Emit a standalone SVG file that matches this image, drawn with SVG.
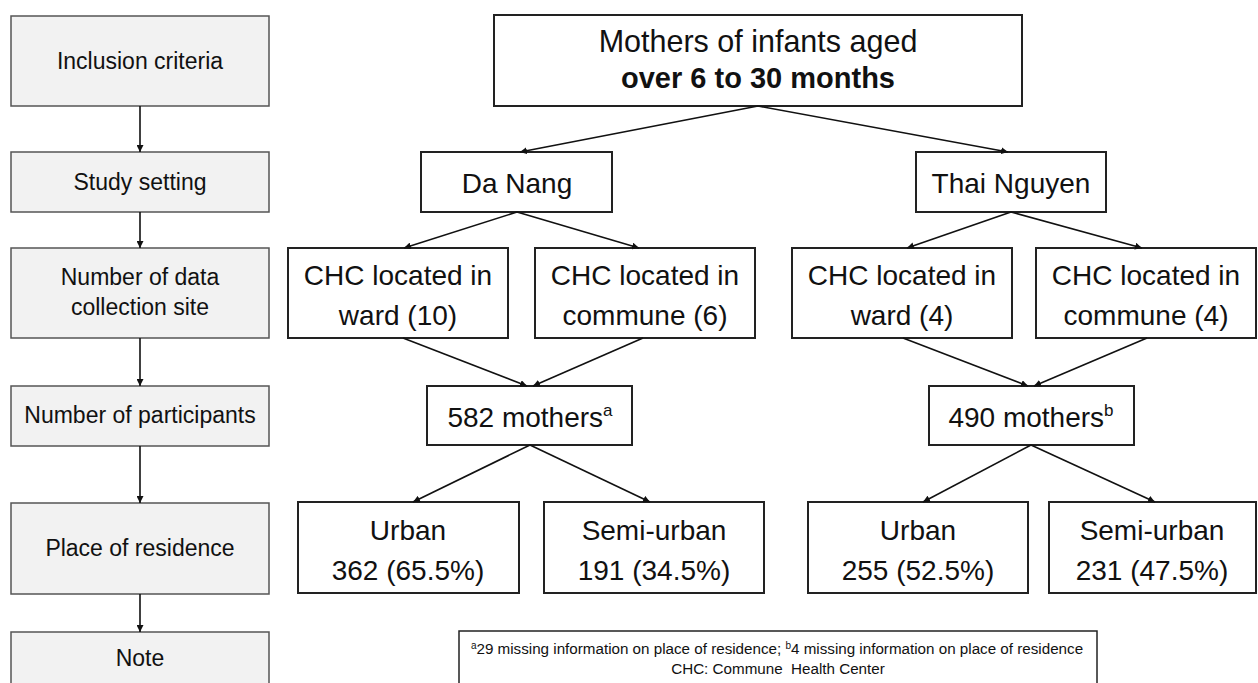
<svg xmlns="http://www.w3.org/2000/svg" width="1258" height="683" viewBox="0 0 1258 683">
<style>
.side rect{fill:#f2f2f2;stroke:#555;stroke-width:1.5}
.node rect{fill:#fff;stroke:#222;stroke-width:2}
text{font-family:"Liberation Sans",Arial,sans-serif;fill:#111;text-anchor:middle}
.s{font-size:23px}
.m{font-size:28px}
.n{font-size:15.2px}
#connectors line{stroke:#111;stroke-width:1.6;marker-end:url(#ah)}
</style>
<defs>
<marker id="ah" viewBox="0 0 10 10" refX="10" refY="5" markerWidth="7" markerHeight="7" markerUnits="userSpaceOnUse" orient="auto">
<path d="M0,0 L10,5 L0,10 z" fill="#111"/>
</marker>
</defs>
<rect width="1258" height="683" fill="#fff"/>
<g id="s1" class="side"><rect x="11" y="16" width="258" height="90"/><text class="s" x="140" y="69">Inclusion criteria</text></g>
<g id="s2" class="side"><rect x="11" y="152" width="258" height="60"/><text class="s" x="140" y="190">Study setting</text></g>
<g id="s3" class="side"><rect x="11" y="248" width="258" height="90"/><text class="s" x="140" y="285">Number of data</text><text class="s" x="140" y="315">collection site</text></g>
<g id="s4" class="side"><rect x="11" y="386" width="258" height="60"/><text class="s" x="140" y="423">Number of participants</text></g>
<g id="s5" class="side"><rect x="11" y="503" width="258" height="91"/><text class="s" x="140" y="556">Place of residence</text></g>
<g id="s6" class="side"><rect x="11" y="632" width="258" height="60"/><text class="s" x="140" y="666">Note</text></g>

<g id="top" class="node"><rect x="494" y="15" width="528" height="91"/><text class="m" x="758" y="52" style="font-size:30.5px">Mothers of infants aged</text><text class="m" x="758" y="88" style="font-size:29px;font-weight:bold">over 6 to 30 months</text></g>
<g id="danang" class="node"><rect x="421" y="152" width="191" height="60"/><text class="m" x="517" y="193">Da Nang</text></g>
<g id="thainguyen" class="node"><rect x="916" y="152" width="190" height="60"/><text class="m" x="1011" y="193">Thai Nguyen</text></g>
<g id="dn-ward" class="node"><rect x="288" y="248" width="220" height="90"/><text class="m" x="398" y="285">CHC located in</text><text class="m" x="398" y="325">ward (10)</text></g>
<g id="dn-commune" class="node"><rect x="535" y="248" width="220" height="90"/><text class="m" x="645" y="285">CHC located in</text><text class="m" x="645" y="325">commune (6)</text></g>
<g id="tn-ward" class="node"><rect x="792" y="248" width="220" height="90"/><text class="m" x="902" y="285">CHC located in</text><text class="m" x="902" y="325">ward (4)</text></g>
<g id="tn-commune" class="node"><rect x="1036" y="248" width="220" height="90"/><text class="m" x="1146" y="285">CHC located in</text><text class="m" x="1146" y="325">commune (4)</text></g>
<g id="dn-mothers" class="node"><rect x="427" y="386" width="205" height="59"/><text class="m" x="530" y="427">582 mothers<tspan font-size="17" dy="-11">a</tspan></text></g>
<g id="tn-mothers" class="node"><rect x="929" y="386" width="205" height="59"/><text class="m" x="1031" y="427">490 mothers<tspan font-size="17" dy="-11">b</tspan></text></g>
<g id="dn-urban" class="node"><rect x="298" y="502" width="221" height="91"/><text class="m" x="408" y="540">Urban</text><text class="m" x="408" y="580">362 (65.5%)</text></g>
<g id="dn-semi" class="node"><rect x="544" y="502" width="220" height="91"/><text class="m" x="654" y="540">Semi-urban</text><text class="m" x="654" y="580">191 (34.5%)</text></g>
<g id="tn-urban" class="node"><rect x="808" y="502" width="220" height="91"/><text class="m" x="918" y="540">Urban</text><text class="m" x="918" y="580">255 (52.5%)</text></g>
<g id="tn-semi" class="node"><rect x="1049" y="502" width="207" height="91"/><text class="m" x="1152" y="540">Semi-urban</text><text class="m" x="1152" y="580">231 (47.5%)</text></g>
<g id="note" class="node"><rect x="459" y="631" width="638" height="60" style="stroke-width:1.5"/><text class="n" x="777" y="654"><tspan font-size="10" dy="-5">a</tspan><tspan dy="5">29 missing information on place of residence; </tspan><tspan font-size="10" dy="-5">b</tspan><tspan dy="5">4 missing information on place of residence</tspan></text><text class="n" x="778" y="674" xml:space="preserve">CHC: Commune  Health Center</text></g>

<g id="connectors">
<line x1="140" y1="106" x2="140" y2="152"/>
<line x1="140" y1="212" x2="140" y2="248"/>
<line x1="140" y1="338" x2="140" y2="386"/>
<line x1="140" y1="446" x2="140" y2="503"/>
<line x1="140" y1="594" x2="140" y2="632"/>
<line x1="758" y1="106" x2="520" y2="152"/>
<line x1="758" y1="106" x2="1008" y2="152"/>
<line x1="517" y1="212" x2="404" y2="248"/>
<line x1="517" y1="212" x2="639" y2="248"/>
<line x1="1011" y1="212" x2="907" y2="248"/>
<line x1="1011" y1="212" x2="1142" y2="248"/>
<line x1="403" y1="338" x2="527" y2="386"/>
<line x1="643" y1="338" x2="533" y2="386"/>
<line x1="903" y1="338" x2="1028" y2="386"/>
<line x1="1147" y1="338" x2="1034" y2="386"/>
<line x1="530" y1="445" x2="413" y2="502"/>
<line x1="530" y1="445" x2="650" y2="502"/>
<line x1="1031" y1="445" x2="923" y2="502"/>
<line x1="1031" y1="445" x2="1155" y2="502"/>
</g>
</svg>
